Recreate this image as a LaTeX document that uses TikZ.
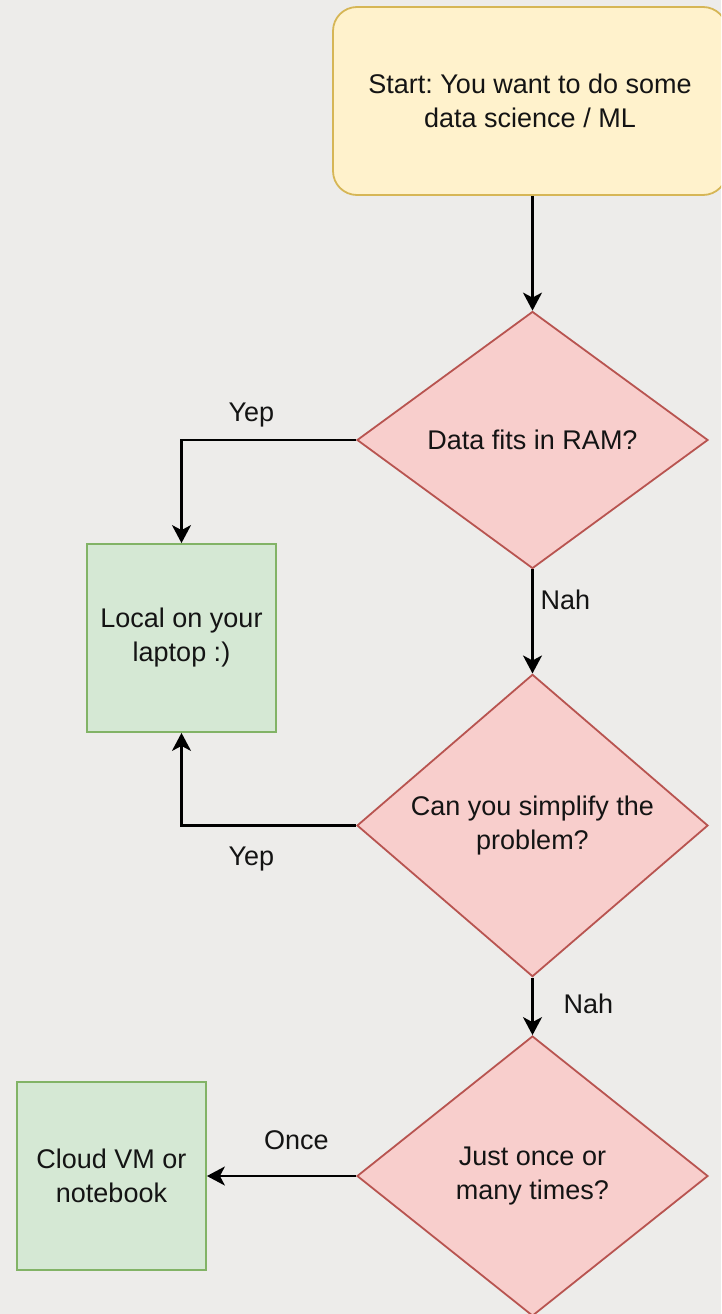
\documentclass[tikz,border=0pt]{standalone}
\usepackage{fontspec}
\setmainfont{Liberation Sans}
\usetikzlibrary{shapes.geometric,arrows.meta}

\definecolor{bgc}{HTML}{EDECEA}
\definecolor{startfill}{HTML}{FFF2CC}
\definecolor{startline}{HTML}{D6B656}
\definecolor{askfill}{HTML}{F8CECC}
\definecolor{askline}{HTML}{B85450}
\definecolor{endfill}{HTML}{D5E8D4}
\definecolor{endline}{HTML}{82B366}
\definecolor{ink}{HTML}{141414}

\tikzset{
  txt/.style={font=\fontsize{27}{34}\selectfont\frenchspacing, text=ink, align=center},
  startbox/.style={txt, draw=startline, fill=startfill, line width=1.8pt,
    rounded corners=24pt, minimum width=394pt, minimum height=188pt, inner sep=0pt},
  askbox/.style={txt, diamond, draw=askline, fill=askfill, line width=1.8pt,
    minimum width=351pt, inner sep=0pt},
  endbox/.style={txt, draw=endline, fill=endfill, line width=1.8pt,
    minimum width=189pt, minimum height=188pt, inner sep=0pt},
  flow/.style={draw=black, line width=2.2pt,
    -{Stealth[length=18pt, width=19pt, inset=5pt]}},
  tag/.style={txt, inner sep=0pt}
}

\begin{document}
\begin{tikzpicture}[x=1pt, y=-1pt]
  \fill[bgc] (0,0) rectangle (721,1314);
  \useasboundingbox (0,0) rectangle (721,1314);
  \clip (0,0) rectangle (721,1314);

  % shapes
  \node[startbox] (start) at (530,101) {Start: You want to do some\\data science / ML};
  \node[askbox, minimum height=257pt] (ram) at (532.5,440) {Data fits in RAM?};
  \node[endbox] (local) at (181.5,638) {Local on your\\laptop :)};
  \node[askbox, minimum height=281pt] (simp) at (532.5,825.5) {Can you simplify the\\problem?};
  \node[askbox, minimum height=280pt] (once) at (532.5,1176) {Just once or\\many times?};
  \node[endbox] (cloud) at (111.5,1176) {Cloud VM or\\notebook};

  % connectors
  \draw[flow] (start.south -| ram.north) -- (ram.north);
  \draw[flow] (ram.west) -| node[tag, pos=0.3, yshift=25pt] {Yep} (local.north);
  \draw[flow] (ram.south) -- node[tag, pos=0.29, xshift=33pt] {Nah} (simp.north);
  \draw[flow] (simp.west) -| node[tag, pos=0.3, yshift=-34pt] {Yep} (local.south);
  \draw[flow] (simp.south) -- node[tag, pos=0.46, xshift=56pt] {Nah} (once.north);
  \draw[flow] (once.west) -- node[tag, pos=0.4, yshift=36pt] {Once} (cloud.east);
\end{tikzpicture}
\end{document}
